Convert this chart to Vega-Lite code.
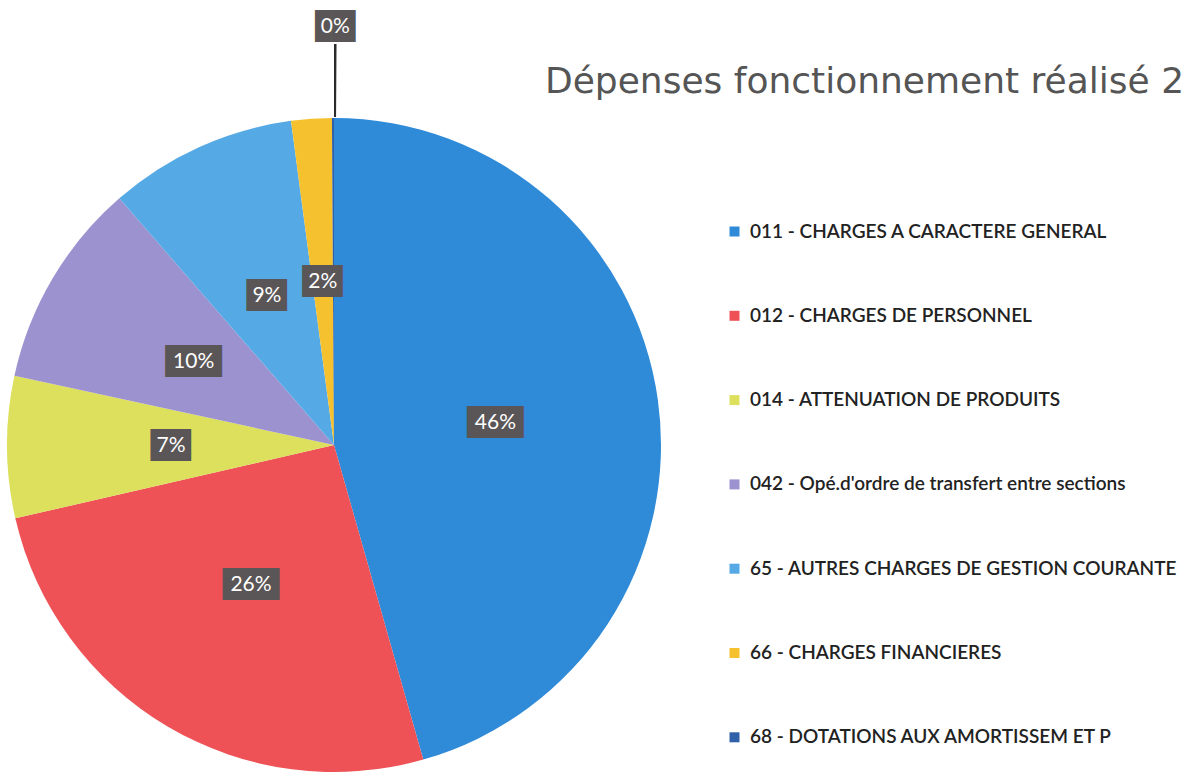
{
  "$schema": "https://vega.github.io/schema/vega-lite/v6.json",
  "width": 668,
  "height": 890,
  "padding": 0,
  "autosize": {"type": "pad"},
  "background": "white",
  "view": {"stroke": null},
  "title": {
    "text": "Dépenses fonctionnement réalisé 20",
    "anchor": "start",
    "frame": "group",
    "font": "DejaVu Sans",
    "fontSize": 36,
    "fontWeight": "normal",
    "color": "#555555",
    "baseline": "alphabetic",
    "offset": 0,
    "dx": 545,
    "dy": 129
  },
  "data": {
    "values": [
      {"code": "011 - CHARGES A CARACTERE GENERAL", "pct": 0.456},
      {"code": "012 - CHARGES DE PERSONNEL", "pct": 0.258},
      {"code": "014 - ATTENUATION DE PRODUITS", "pct": 0.070},
      {"code": "042 - Opé.d'ordre de transfert entre sections", "pct": 0.102},
      {"code": "65 - AUTRES CHARGES DE GESTION COURANTE", "pct": 0.093},
      {"code": "66 - CHARGES FINANCIERES", "pct": 0.020},
      {"code": "68 - DOTATIONS AUX AMORTISSEM ET P", "pct": 0.001}
    ]
  },
  "encoding": {
    "theta": {"field": "pct", "type": "quantitative", "stack": true, "scale": {"domain": [0, 1]}},
    "order": {"field": "code", "type": "nominal"}
  },
  "layer": [
    {
      "mark": {"type": "arc", "radius": 327},
      "encoding": {
        "color": {
          "field": "code",
          "type": "nominal",
          "scale": {
            "domain": [
              "011 - CHARGES A CARACTERE GENERAL",
              "012 - CHARGES DE PERSONNEL",
              "014 - ATTENUATION DE PRODUITS",
              "042 - Opé.d'ordre de transfert entre sections",
              "65 - AUTRES CHARGES DE GESTION COURANTE",
              "66 - CHARGES FINANCIERES",
              "68 - DOTATIONS AUX AMORTISSEM ET P"
            ],
            "range": ["#2f8ad8", "#ee5256", "#dce05c", "#9c92d0", "#55aae5", "#f5c12f", "#2f60a8"]
          },
          "legend": {
            "title": null,
            "orient": "none",
            "legendX": 725,
            "legendY": 222,
            "direction": "vertical",
            "symbolType": "square",
            "symbolSize": 100,
            "symbolStrokeWidth": 0,
            "labelFont": "Lato",
            "labelFontSize": 19,
            "labelFontWeight": 600,
            "labelColor": "#222222",
            "labelOffset": 6,
            "labelLimit": 600,
            "rowPadding": 64.3
          }
        }
      }
    },
    {
      "transform": [{"filter": "datum.pct < 0.005"}],
      "mark": {"type": "arc", "radius": 401, "radius2": 328, "fill": "#2b2b2b"}
    },
    {
      "mark": {"type": "text", "radius": 163, "font": "DejaVu Sans Mono", "fontSize": 27, "fill": "#5a5556", "align": "center", "baseline": "middle", "dx": 4},
      "encoding": {
        "text": {"condition": {"test": "datum.pct >= 0.095", "value": "███▌"}, "value": "██▌"},
        "opacity": {"condition": {"test": "datum.pct < 0.005", "value": 0}, "value": 1}
      }
    },
    {
      "transform": [{"filter": "datum.pct < 0.005"}],
      "mark": {"type": "text", "radius": 418, "font": "DejaVu Sans Mono", "fontSize": 27, "fill": "#5a5556", "align": "center", "baseline": "middle", "dx": 4, "text": "██▌"}
    },
    {
      "mark": {"type": "text", "radius": 163, "font": "Lato", "fontSize": 21, "fill": "white", "align": "center", "baseline": "middle"},
      "encoding": {
        "text": {"field": "pct", "type": "quantitative", "format": ".0%"},
        "opacity": {"condition": {"test": "datum.pct < 0.005", "value": 0}, "value": 1}
      }
    },
    {
      "transform": [{"filter": "datum.pct < 0.005"}],
      "mark": {"type": "text", "radius": 418, "font": "Lato", "fontSize": 21, "fill": "white", "align": "center", "baseline": "middle"},
      "encoding": {
        "text": {"field": "pct", "type": "quantitative", "format": ".0%"}
      }
    }
  ]
}
